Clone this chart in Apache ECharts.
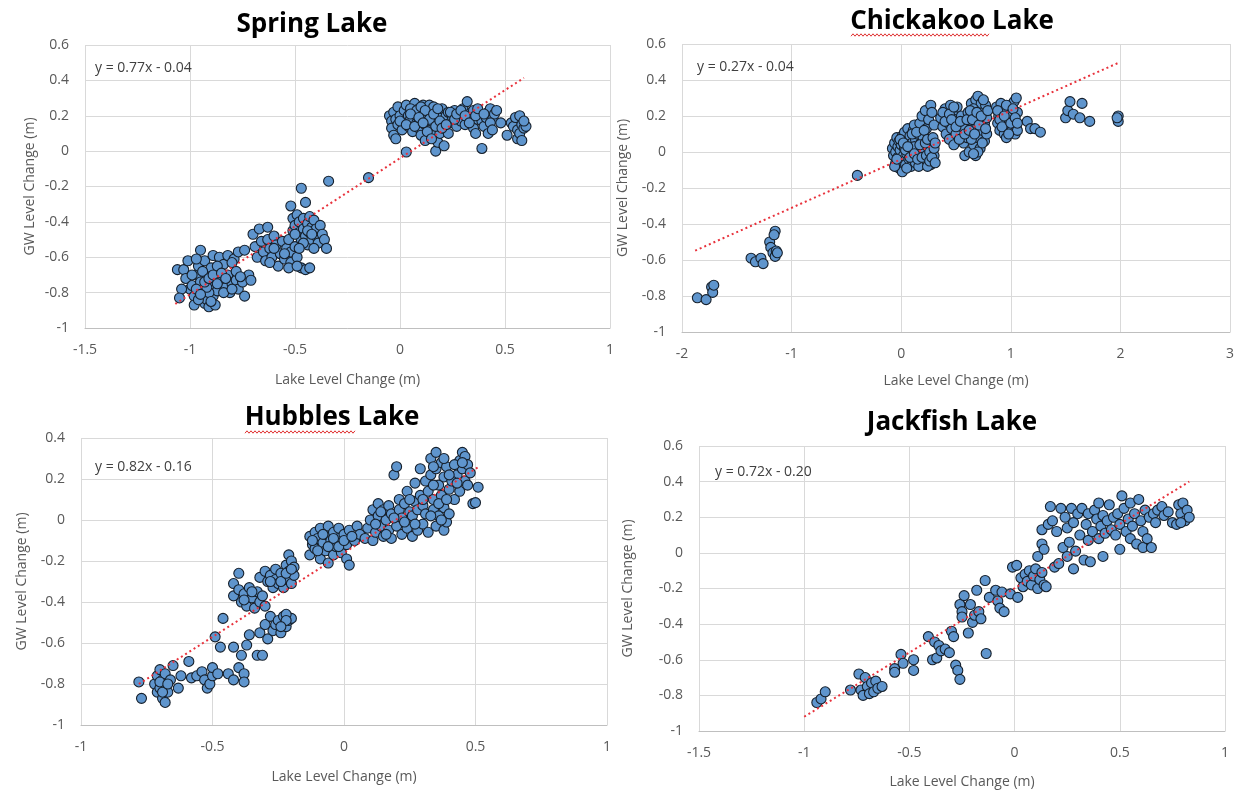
<!DOCTYPE html>
<html>
<head>
<meta charset="utf-8">
<script src="https://cdn.jsdelivr.net/npm/echarts@6/dist/echarts.min.js"></script>
<style>
html,body{margin:0;padding:0;background:#fff;}
#chart{width:1238px;height:791px;}
</style>
</head>
<body>
<div id="chart"></div>
<script>
// ---------------- data ----------------
const titles = ['Spring Lake', 'Chickakoo Lake', 'Hubbles Lake', 'Jackfish Lake'];
const equations = ['y = 0.77x - 0.04', 'y = 0.27x - 0.04', 'y = 0.82x - 0.16', 'y = 0.72x - 0.20'];
const xTitle = 'Lake Level Change (m)';
const yTitle = 'GW Level Change (m)';

const springLake = [
[-1.06,-0.67],[-1.03,-0.67],[-1.01,-0.62],[-1.02,-0.72],[-1.00,-0.78],[-0.99,-0.76],[-0.98,-0.82],[-0.97,-0.70],[-0.96,-0.65],[-0.95,-0.56],
[-0.95,-0.74],[-0.94,-0.79],[-0.93,-0.86],[-0.93,-0.62],[-0.92,-0.70],[-0.92,-0.84],[-0.91,-0.88],[-0.90,-0.76],[-0.90,-0.66],[-0.89,-0.82],
[-0.89,-0.59],[-0.88,-0.72],[-0.88,-0.87],[-0.87,-0.79],[-0.86,-0.68],[-0.86,-0.60],[-0.85,-0.74],[-0.84,-0.64],[-0.83,-0.77],[-0.82,-0.70],
[-0.82,-0.59],[-0.81,-0.80],[-0.80,-0.75],[-0.79,-0.61],[-0.78,-0.73],[-0.77,-0.57],[-0.77,-0.78],[-0.75,-0.74],[-0.74,-0.56],[-0.74,-0.82],
[-0.72,-0.70],[-0.71,-0.73],[-0.98,-0.87],[-0.96,-0.84],[-0.94,-0.68],[-0.91,-0.80],[-0.87,-0.65],[-0.84,-0.80],[-0.80,-0.63],[-1.04,-0.78],
[-1.05,-0.83],[-0.97,-0.61],[-0.92,-0.77],
[-0.99,-0.70],[-0.97,-0.78],[-0.95,-0.81],[-0.93,-0.74],[-0.91,-0.72],[-0.90,-0.85],[-0.89,-0.70],[-0.87,-0.75],[-0.85,-0.69],[-0.83,-0.72],
[-0.80,-0.78],[-0.78,-0.68],[-0.76,-0.71],
[-0.70,-0.47],[-0.69,-0.54],[-0.68,-0.60],[-0.67,-0.44],[-0.66,-0.51],[-0.65,-0.57],[-0.64,-0.62],[-0.63,-0.43],[-0.63,-0.50],[-0.62,-0.55],
[-0.61,-0.60],[-0.60,-0.48],[-0.59,-0.53],[-0.58,-0.65],[-0.57,-0.58],[-0.56,-0.51],[-0.55,-0.61],[-0.54,-0.55],[-0.53,-0.50],[-0.52,-0.57],
[-0.52,-0.63],[-0.51,-0.45],[-0.50,-0.54],[-0.49,-0.60],[-0.60,-0.55],[-0.62,-0.63],[-0.55,-0.58],[-0.53,-0.66],
[-0.52,-0.31],[-0.51,-0.38],[-0.50,-0.42],[-0.49,-0.36],[-0.48,-0.46],[-0.48,-0.40],[-0.47,-0.50],[-0.47,-0.21],[-0.46,-0.44],[-0.46,-0.38],
[-0.45,-0.29],[-0.45,-0.48],[-0.44,-0.41],[-0.44,-0.53],[-0.43,-0.37],[-0.43,-0.46],[-0.42,-0.43],[-0.42,-0.50],[-0.41,-0.39],[-0.40,-0.48],
[-0.40,-0.44],[-0.39,-0.52],[-0.38,-0.42],[-0.37,-0.47],[-0.36,-0.50],[-0.35,-0.55],[-0.34,-0.17],[-0.47,-0.66],[-0.45,-0.67],[-0.43,-0.66],
[-0.49,-0.65],[-0.44,-0.45],[-0.46,-0.52],[-0.42,-0.47],[-0.41,-0.55],[-0.48,-0.55],[-0.50,-0.47],
[-0.15,-0.15],[0.03,-0.005],
[-0.05,0.20],[-0.04,0.17],[-0.04,0.13],[-0.03,0.22],[-0.03,0.09],[-0.02,0.18],[-0.02,0.07],[-0.01,0.25],[-0.01,0.15],[0.00,0.20],
[0.01,0.12],[0.02,0.23],[0.02,0.17],[0.03,0.26],[0.04,0.20],[0.04,0.14],[0.05,0.18],[0.06,0.22],[0.06,0.11],[0.07,0.27],
[0.08,0.16],[0.08,0.20],[0.09,0.24],[0.09,0.13],[0.10,0.18],[0.10,0.09],[0.11,0.26],[0.11,0.21],[0.12,0.15],[0.12,0.06],
[0.13,0.23],[0.13,0.19],[0.14,0.26],[0.14,0.12],[0.15,0.17],[0.15,0.22],[0.16,0.09],[0.16,0.25],[0.17,0.00],[0.17,0.19],
[0.18,0.14],[0.18,0.05],[0.19,0.21],[0.19,0.10],[0.20,0.24],[0.20,0.17],[0.21,0.03],[0.21,0.13],[0.22,0.20],[0.23,0.10],
[0.23,0.22],[0.24,0.16],[0.25,0.19],[0.26,0.23],[0.27,0.14],[0.28,0.20],[0.29,0.17],[0.30,0.24],[0.31,0.15],[0.32,0.28],
[0.33,0.19],[0.34,0.22],[0.35,0.13],[0.35,0.23],[0.36,0.10],[0.37,0.18],[0.38,0.21],[0.39,0.015],[0.39,0.17],[0.40,0.14],
[0.41,0.19],[0.42,0.22],[0.42,0.10],[0.43,0.24],[0.44,0.18],[0.45,0.21],[0.46,0.23],[0.48,0.16],[0.51,0.09],[0.53,0.16],
[0.54,0.14],[0.55,0.19],[0.56,0.12],[0.56,0.07],[0.57,0.20],[0.57,0.10],[0.58,0.15],[0.58,0.06],[0.59,0.13],[0.60,0.14],[0.59,0.17],
[0.00,0.17],[0.03,0.15],[0.05,0.24],[0.07,0.14],[0.08,0.23],[0.10,0.25],[0.12,0.23],[0.14,0.18],[0.16,0.21],[0.17,0.14],
[0.18,0.24],[0.19,0.17],[0.20,0.13],[0.22,0.15],[0.24,0.22],[0.26,0.18],[0.27,0.21],[0.29,0.23],[0.31,0.20],[0.33,0.16],
[0.36,0.20],[0.37,0.24],[0.40,0.21],[0.43,0.16],[0.44,0.12],[0.05,0.21],[0.09,0.19],[0.13,0.11],[0.15,0.07],[0.11,0.16]
];

const chickakooLake = [
[-1.86,-0.81],[-1.78,-0.82],[-1.73,-0.75],[-1.72,-0.78],[-1.71,-0.74],
[-1.37,-0.59],[-1.33,-0.61],[-1.28,-0.59],[-1.26,-0.62],[-1.20,-0.50],[-1.19,-0.53],[-1.17,-0.56],[-1.15,-0.58],[-1.14,-0.55],[-1.15,-0.44],
[-1.16,-0.46],[-1.13,-0.56],
[-0.40,-0.13],
[-0.08,0.02],[-0.07,-0.02],[-0.06,0.05],[-0.05,-0.06],[-0.05,0.00],[-0.04,0.08],[-0.03,-0.03],[-0.03,0.03],[-0.02,-0.09],[-0.02,0.06],
[-0.01,0.01],[0.00,-0.05],[0.00,0.04],[0.01,0.09],[0.01,-0.11],[0.02,-0.02],[0.03,0.02],[0.03,0.11],[0.04,-0.07],[0.05,0.06],
[0.05,-0.01],[0.06,0.13],[0.07,0.03],[0.07,-0.04],[0.08,0.09],[0.09,-0.08],[0.09,0.00],[0.10,0.05],[0.11,0.12],[0.11,-0.03],
[0.12,0.15],[0.13,0.07],[0.13,-0.06],[0.14,0.02],[0.15,0.10],[0.16,-0.01],[0.17,0.16],[0.18,-0.07],[0.18,0.05],[0.19,0.20],
[0.20,-0.04],[0.20,0.08],[0.21,0.01],[0.22,0.23],[0.22,-0.06],[0.23,0.13],[0.24,0.03],[0.25,-0.03],[0.25,0.18],[0.26,0.06],
[0.27,-0.07],[0.27,0.26],[0.28,0.01],[0.28,0.22],[0.29,-0.05],[0.29,0.04],[0.30,-0.02],[0.30,0.15],[0.16,-0.08],[0.24,-0.08],
[0.12,0.03],[0.04,0.01],
[-0.06,-0.08],[-0.04,-0.04],[-0.01,0.07],[0.02,0.05],[0.05,-0.09],[0.06,0.03],[0.08,-0.03],[0.10,0.10],[0.12,-0.01],[0.14,0.11],
[0.15,-0.04],[0.17,0.04],[0.19,-0.03],[0.21,0.12],[0.22,0.05],[0.23,-0.02],[0.24,0.07],[0.26,0.00],[0.26,-0.05],[0.28,-0.03],
[0.29,0.08],[0.30,0.02],[0.31,-0.06],[0.31,0.05],
[0.36,0.19],[0.38,0.14],[0.40,0.24],[0.41,0.10],[0.42,0.20],[0.43,0.16],[0.44,0.07],[0.45,0.26],[0.46,0.13],[0.47,0.22],
[0.48,0.04],[0.49,0.18],[0.50,0.10],[0.51,0.25],[0.52,0.15],[0.55,0.20],[0.57,0.05],[0.58,-0.02],[0.59,0.13],[0.60,0.08],
[0.61,0.22],[0.62,0.00],[0.63,0.17],[0.64,0.27],[0.65,0.11],[0.66,0.04],[0.67,0.20],[0.68,0.29],[0.68,-0.02],[0.69,0.14],
[0.70,0.31],[0.70,0.08],[0.71,0.24],[0.72,0.02],[0.72,0.18],[0.73,0.27],[0.74,0.12],[0.75,0.22],[0.76,0.06],[0.76,0.16],
[0.77,0.26],[0.78,0.10],[0.78,0.19],[0.56,0.14],[0.53,0.07],[0.64,0.07],[0.66,0.24],
[0.38,0.22],[0.40,0.17],[0.44,0.21],[0.46,0.18],[0.48,0.25],[0.50,0.14],[0.54,0.17],[0.58,0.10],[0.60,0.18],[0.62,0.12],
[0.63,0.23],[0.65,0.18],[0.67,0.10],[0.69,0.22],[0.71,0.15],[0.73,0.20],[0.74,0.05],[0.75,0.29],[0.77,0.13],[0.79,0.23],
[0.70,0.00],[0.66,-0.01],
[0.87,0.25],[0.88,0.16],[0.89,0.20],[0.90,0.12],[0.91,0.27],[0.92,0.22],[0.93,0.17],[0.94,0.10],[0.95,0.24],[0.96,0.08],
[0.97,0.19],[0.98,0.14],[0.99,0.26],[1.00,0.21],[1.01,0.12],[1.02,0.17],[1.03,0.28],[1.04,0.10],[1.05,0.30],[1.05,0.14],
[1.06,0.22],[1.06,0.12],[0.88,0.23],[0.90,0.18],[0.92,0.14],[0.94,0.20],[0.96,0.26],[0.98,0.10],[1.00,0.16],[1.02,0.24],
[1.04,0.19],[1.06,0.16],
[1.15,0.17],[1.18,0.13],[1.22,0.13],[1.27,0.11],
[1.50,0.19],[1.52,0.23],[1.54,0.28],[1.57,0.21],[1.63,0.19],[1.65,0.27],[1.72,0.17],
[1.98,0.20],[1.98,0.17],[1.97,0.19]
];

const hubblesLake = [
[-0.78,-0.79],[-0.77,-0.87],[-0.72,-0.80],[-0.71,-0.84],[-0.71,-0.76],[-0.70,-0.73],[-0.70,-0.82],[-0.69,-0.87],[-0.69,-0.78],[-0.68,-0.89],
[-0.68,-0.81],[-0.68,-0.75],[-0.67,-0.84],[-0.66,-0.78],[-0.65,-0.71],[-0.63,-0.82],[-0.62,-0.76],[-0.59,-0.69],[-0.58,-0.77],[-0.56,-0.76],
[-0.54,-0.74],[-0.53,-0.78],[-0.52,-0.82],[-0.51,-0.80],[-0.50,-0.76],[-0.50,-0.72],[-0.49,-0.57],[-0.48,-0.75],[-0.47,-0.62],[-0.46,-0.48],
[-0.44,-0.75],[-0.42,-0.62],[-0.42,-0.78],[-0.40,-0.72],[-0.39,-0.66],[-0.38,-0.75],[-0.38,-0.79],[-0.37,-0.61],[-0.36,-0.56],[-0.33,-0.66],
[-0.31,-0.66],[-0.32,-0.55],[-0.30,-0.51],[-0.29,-0.58],[-0.28,-0.47],[-0.27,-0.54],[-0.26,-0.51],[-0.25,-0.49],[-0.24,-0.55],[-0.23,-0.47],
[-0.22,-0.52],[-0.21,-0.49],[-0.20,-0.48],[-0.22,-0.46],[-0.70,-0.79],[-0.69,-0.84],[-0.67,-0.80],[-0.22,-0.49],[-0.24,-0.52],
[-0.40,-0.26],[-0.42,-0.31],[-0.42,-0.37],[-0.40,-0.34],[-0.39,-0.40],[-0.38,-0.36],[-0.37,-0.42],[-0.36,-0.33],[-0.35,-0.38],[-0.34,-0.43],
[-0.33,-0.35],[-0.32,-0.28],[-0.32,-0.40],[-0.31,-0.37],[-0.30,-0.25],[-0.30,-0.42],[-0.29,-0.30],[-0.28,-0.27],[-0.27,-0.33],[-0.26,-0.24],
[-0.26,-0.29],[-0.25,-0.31],[-0.24,-0.26],[-0.23,-0.33],[-0.22,-0.22],[-0.22,-0.29],[-0.21,-0.17],[-0.21,-0.25],[-0.20,-0.31],[-0.20,-0.20],
[-0.19,-0.27],[-0.19,-0.23],[-0.38,-0.39],[-0.35,-0.35],[-0.28,-0.30],[-0.24,-0.30],[-0.22,-0.26],[-0.20,-0.24],
[-0.13,-0.08],[-0.13,-0.17],[-0.12,-0.12],[-0.11,-0.06],[-0.11,-0.14],[-0.10,-0.09],[-0.09,-0.19],[-0.09,-0.04],[-0.08,-0.11],[-0.07,-0.07],
[-0.07,-0.15],[-0.06,-0.03],[-0.06,-0.21],[-0.05,-0.10],[-0.04,-0.06],[-0.04,-0.17],[-0.03,-0.13],[-0.02,-0.04],[-0.02,-0.09],[-0.01,-0.16],
[0.00,-0.07],[0.01,-0.19],[0.01,-0.12],[0.02,-0.22],[0.02,-0.05],[0.04,-0.10],[0.05,-0.03],[0.06,-0.07],
[-0.12,-0.10],[-0.10,-0.15],[-0.08,-0.07],[-0.06,-0.13],[-0.04,-0.09],[-0.02,-0.13],[0.00,-0.10],[0.03,-0.08],
[0.08,-0.09],[0.09,-0.04],[0.10,0.00],[0.11,-0.10],[0.11,0.05],[0.12,-0.06],[0.13,0.02],[0.13,0.08],[0.14,-0.03],[0.15,-0.08],
[0.15,0.05],[0.16,0.00],[0.17,-0.05],[0.17,0.07],[0.18,-0.09],[0.18,0.03],[0.19,0.22],[0.20,-0.03],[0.20,0.26],[0.21,0.10],
[0.21,0.05],[0.22,-0.07],[0.22,0.01],[0.23,0.08],[0.24,-0.04],[0.24,0.14],[0.25,0.04],[0.26,-0.08],[0.26,0.02],[0.27,0.09],
[0.27,0.18],[0.28,-0.05],[0.28,0.05],[0.29,0.12],[0.29,0.25],[0.30,-0.02],[0.30,0.07],[0.31,0.19],[0.31,0.03],[0.32,-0.06],
[0.32,0.14],[0.33,0.30],[0.33,0.22],[0.34,0.05],[0.34,0.10],[0.35,0.33],[0.35,0.25],[0.35,-0.03],[0.36,0.17],[0.36,0.02],
[0.37,0.28],[0.37,0.12],[0.38,0.21],[0.38,-0.05],[0.38,0.06],[0.39,0.26],[0.39,-0.01],[0.40,0.15],[0.40,0.03],[0.42,0.10],
[0.43,0.22],[0.44,0.29],[0.44,0.14],[0.45,0.33],[0.45,0.25],[0.46,0.19],[0.46,0.31],[0.47,0.27],[0.47,0.17],[0.48,0.23],
[0.49,0.08],[0.50,0.085],[0.51,0.16],[0.42,0.27],[0.41,0.19],
[0.12,-0.02],[0.14,0.04],[0.16,-0.07],[0.19,0.01],[0.23,-0.01],[0.25,0.10],[0.27,-0.02],[0.30,0.10],[0.33,0.02],[0.34,0.17],
[0.36,0.08],[0.37,0.00],[0.39,0.10],[0.40,0.22],[0.38,0.30],[0.34,0.26],[0.45,0.28],[0.43,0.18]
];

const jackfishLake = [
[-0.94,-0.84],[-0.92,-0.82],[-0.90,-0.78],[-0.78,-0.77],[-0.74,-0.68],[-0.73,-0.77],[-0.72,-0.80],[-0.71,-0.70],[-0.70,-0.75],[-0.69,-0.79],
[-0.68,-0.73],[-0.67,-0.78],[-0.66,-0.72],[-0.65,-0.76],[-0.63,-0.75],
[-0.57,-0.65],[-0.57,-0.67],[-0.54,-0.57],[-0.53,-0.62],[-0.48,-0.60],[-0.48,-0.66],
[-0.41,-0.47],[-0.39,-0.60],[-0.38,-0.50],[-0.37,-0.59],[-0.36,-0.52],[-0.35,-0.55],[-0.33,-0.54],[-0.31,-0.56],[-0.30,-0.44],[-0.29,-0.47],
[-0.28,-0.63],[-0.27,-0.66],[-0.26,-0.71],
[-0.26,-0.29],[-0.25,-0.33],[-0.25,-0.36],[-0.24,-0.24],[-0.22,-0.45],[-0.21,-0.29],[-0.20,-0.39],[-0.19,-0.35],[-0.18,-0.21],[-0.17,-0.33],
[-0.16,-0.37],[-0.14,-0.155],[-0.135,-0.565],[-0.12,-0.25],[-0.09,-0.21],[-0.08,-0.27],[-0.07,-0.31],[-0.06,-0.22],[-0.05,-0.33],[-0.02,-0.23],
[-0.01,-0.08],[0.01,-0.07],[0.015,-0.25],
[0.03,-0.14],[0.04,-0.19],[0.05,-0.12],[0.06,-0.16],[0.07,-0.10],[0.08,-0.18],[0.09,-0.13],[0.10,-0.09],[0.11,-0.20],[0.12,-0.15],
[0.13,-0.11],[0.14,-0.18],[0.15,-0.19],[0.11,-0.02],[0.13,0.13],[0.13,0.05],[0.14,0.02],[0.16,0.16],[0.17,0.26],[0.18,0.18],
[0.19,-0.08],[0.20,0.12],[0.21,-0.06],[0.22,0.25],[0.23,0.03],[0.24,0.20],[0.25,-0.02],[0.25,0.14],[0.26,0.06],[0.27,0.25],
[0.28,-0.09],[0.28,0.17],[0.29,0.01],[0.30,0.22],[0.31,0.10],[0.32,0.25],[0.33,-0.04],[0.34,0.16],[0.35,0.07],[0.35,0.22],
[0.36,-0.05],[0.37,0.12],[0.38,0.24],[0.39,0.19],[0.40,0.08],[0.40,0.28],[0.41,0.15],[0.42,0.21],[0.42,-0.02],[0.43,0.11],
[0.44,0.18],[0.45,0.27],[0.46,0.13],[0.47,0.20],[0.48,0.10],[0.49,0.22],[0.50,0.02],[0.50,0.16],[0.51,0.32],[0.52,0.25],
[0.53,0.12],[0.54,0.19],[0.55,0.28],[0.55,0.08],[0.56,0.15],[0.57,0.22],[0.58,0.05],[0.59,0.30],[0.60,0.18],[0.61,0.03],
[0.61,0.12],[0.62,0.24],[0.63,0.08],[0.64,0.20],[0.65,0.03],[0.66,0.22],[0.67,0.17],[0.68,0.24],[0.70,0.26],[0.71,0.21],
[0.73,0.23],[0.75,0.17],[0.77,0.16],[0.78,0.27],[0.79,0.22],[0.80,0.28],[0.81,0.18],[0.82,0.24],[0.83,0.20],[0.79,0.17]
];

// trend line end points
const trendSpring = [[-1.07,-0.864],[0.59,0.414]];
const trendChickakoo = [[-1.88,-0.548],[1.98,0.495]];
const trendHubbles = [[-0.78,-0.80],[0.51,0.258]];
const trendJackfish = [[-1.00,-0.92],[0.83,0.40]];

// axis ranges [min, max, interval]
const xRanges = [[-1.5,1,0.5],[-2,3,1],[-1,1,0.5],[-1.5,1,0.5]];
const yRanges = [[-1,0.6,0.2],[-1,0.6,0.2],[-1,0.4,0.2],[-1,0.6,0.2]];

// ---------------- layout ----------------
const FONT = '"Open Sans", "Liberation Sans", sans-serif';
const grids = [
  {left: 85, top: 45, width: 525, height: 283},
  {left: 682, top: 44, width: 548, height: 288},
  {left: 81, top: 438, width: 526, height: 287},
  {left: 699, top: 446, width: 526, height: 285}
];
const xNameGap = [45, 42, 45, 44];
const yNameGap = [48, 52, 52, 64];
const titlePos = [[312,25],[952,22],[332,418],[952,423]];
const eqPos = [[95,68],[697,67],[95,467],[715,472]];
const allData = [springLake, chickakooLake, hubblesLake, jackfishLake];
const trends = [trendSpring, trendChickakoo, trendHubbles, trendJackfish];

const xAxes = [], yAxes = [], series = [], graphics = [];
for (let i = 0; i < 4; i++) {
  xAxes.push({
    gridIndex: i, type: 'value',
    min: xRanges[i][0], max: xRanges[i][1], interval: xRanges[i][2],
    name: xTitle, nameLocation: 'middle', nameGap: xNameGap[i],
    nameTextStyle: {color: '#595959', fontSize: 14, fontFamily: FONT},
    axisLine: {show: true, onZero: false, lineStyle: {color: '#bfbfbf', width: 1}},
    axisTick: {show: false},
    axisLabel: {color: '#595959', fontSize: 14, fontFamily: FONT, margin: 15},
    splitLine: {show: true, lineStyle: {color: '#d9d9d9', width: 1}}
  });
  yAxes.push({
    gridIndex: i, type: 'value',
    min: yRanges[i][0], max: yRanges[i][1], interval: yRanges[i][2],
    name: yTitle, nameLocation: 'middle', nameGap: yNameGap[i], nameRotate: 90,
    nameTextStyle: {color: '#595959', fontSize: 14, fontFamily: FONT},
    axisLine: {show: false},
    axisTick: {show: false},
    axisLabel: {color: '#595959', fontSize: 14, fontFamily: FONT, margin: 16},
    splitLine: {show: true, lineStyle: {color: '#d9d9d9', width: 1}}
  });
  series.push({
    type: 'scatter', xAxisIndex: i, yAxisIndex: i,
    data: allData[i], symbol: 'circle', symbolSize: 10,
    itemStyle: {color: '#5f95cd', borderColor: '#16202c', borderWidth: 1.1, opacity: 1},
    z: 2, silent: true
  });
  series.push({
    type: 'line', xAxisIndex: i, yAxisIndex: i,
    data: trends[i], symbol: 'none',
    lineStyle: {color: '#e8323c', width: 2, type: [2, 3]},
    z: 3, silent: true
  });
  graphics.push({
    type: 'text', x: titlePos[i][0], y: titlePos[i][1], z: 10,
    style: {text: titles[i], align: 'center', verticalAlign: 'middle',
            font: 'bold 26px ' + FONT, fill: '#000000'}
  });
  graphics.push({
    type: 'text', x: eqPos[i][0], y: eqPos[i][1], z: 10,
    style: {text: equations[i], align: 'left', verticalAlign: 'middle',
            font: '14px ' + FONT, fill: '#404040'}
  });
}

// spell-check squiggles under "Chickakoo" and "Hubbles"
function squiggle(x0, x1, y) {
  const pts = [];
  let k = 0;
  for (let x = x0; x <= x1; x += 2) { pts.push([x, y + (k % 2 ? -1.2 : 1.2)]); k++; }
  return {type: 'polyline', z: 10, shape: {points: pts}, style: {stroke: '#e03030', lineWidth: 1, fill: null}};
}
graphics.push(squiggle(851, 990, 35));
graphics.push(squiggle(245, 356, 432));

const chart = echarts.init(document.getElementById('chart'), null, {renderer: 'canvas'});
chart.setOption({
  animation: false,
  backgroundColor: '#ffffff',
  grid: grids,
  xAxis: xAxes,
  yAxis: yAxes,
  series: series,
  graphic: graphics
});
</script>
</body>
</html>
